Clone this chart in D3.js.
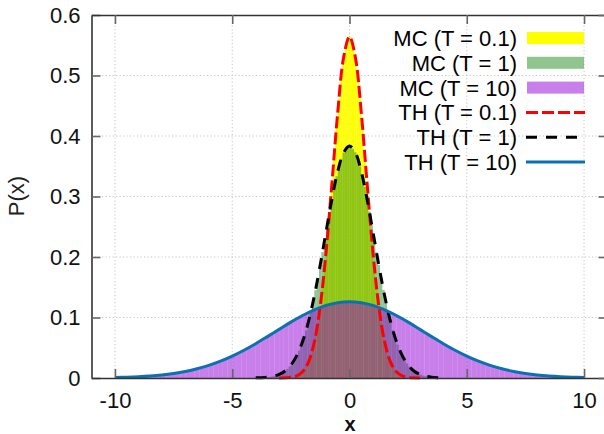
<!DOCTYPE html>
<html><head><meta charset="utf-8">
<script src="https://cdn.jsdelivr.net/npm/d3@7"></script>
<style>
html,body{margin:0;padding:0;background:#fff;}
svg{display:block;font-family:"Liberation Sans",Arial,Helvetica,sans-serif;}
</style></head><body>
<svg id="chart" width="604" height="434"></svg>
<script>
// ---------- data ----------
const xTicks = [-10, -5, 0, 5, 10];
const xTickLabels = ["-10", "-5", "0", "5", "10"];
const yTicks = [0, 0.1, 0.2, 0.3, 0.4, 0.5, 0.6];
const yTickLabels = ["0", "0.1", "0.2", "0.3", "0.4", "0.5", "0.6"];

// MC histograms: first bin left edge, bin width, bin heights
const mcT01Start = -2.4, mcT01Width = 0.1;
const mcT01 = [0.0023,0.0036,0.0055,0.0084,0.0126,0.0184,0.0264,0.0371,0.0511,0.0689,0.0912,0.1183,0.1503,0.1873,0.2288,0.2739,0.3215,0.3698,0.4169,0.4608,0.4992,0.5300,0.5516,0.5628,
  0.5634,0.5509,0.5307,0.4985,0.4615,0.4161,0.3705,0.3208,0.2745,0.2281,0.1879,0.1498,0.1187,0.0908,0.0693,0.0508,0.0373,0.0262,0.0186,0.0124,0.0085,0.0054,0.0037,0.0022];
const mcT1Start = -3.6, mcT1Width = 0.1;
const mcT1 = [0.0011,0.0016,0.0021,0.0029,0.0039,0.0052,0.0069,0.0090,0.0116,0.0149,0.0190,0.0239,0.0299,0.0370,0.0453,0.0550,0.0662,0.0789,0.0931,0.1090,0.1264,0.1452,0.1652,0.1863,0.2081,0.2304,0.2527,0.2746,0.2957,0.3155,0.3335,0.3492,0.3624,0.3726,0.3795,0.3831,
  0.3838,0.3789,0.3731,0.3619,0.3497,0.3329,0.3160,0.2951,0.2750,0.2521,0.2309,0.2076,0.1868,0.1647,0.1456,0.1260,0.1093,0.0928,0.0792,0.0659,0.0552,0.0451,0.0372,0.0297,0.0241,0.0188,0.0150,0.0115,0.0091,0.0068,0.0053,0.0038,0.0030,0.0020,0.0016,0.0011];
const mcT10Start = -10, mcT10Width = 0.2;
const mcT10 = [0.0009,0.0011,0.0014,0.0017,0.0020,0.0024,0.0029,0.0034,0.0040,0.0048,0.0056,0.0065,0.0076,0.0088,0.0102,0.0117,0.0134,0.0153,0.0174,0.0197,0.0222,0.0249,0.0278,0.0310,0.0344,0.0380,0.0418,0.0459,0.0501,0.0545,0.0590,0.0636,0.0684,0.0732,0.0780,0.0828,0.0876,0.0923,0.0968,0.1012,0.1053,0.1091,0.1127,0.1159,0.1187,0.1211,0.1231,0.1245,0.1255,0.1260,
  0.1263,0.1252,0.1248,0.1228,0.1214,0.1184,0.1162,0.1124,0.1094,0.1050,0.1015,0.0965,0.0926,0.0873,0.0831,0.0777,0.0735,0.0681,0.0639,0.0587,0.0548,0.0498,0.0461,0.0416,0.0382,0.0342,0.0312,0.0276,0.0251,0.0220,0.0199,0.0172,0.0155,0.0132,0.0118,0.0101,0.0089,0.0075,0.0066,0.0055,0.0049,0.0039,0.0035,0.0028,0.0025,0.0019,0.0017,0.0013,0.0012,0.0008];

// Theoretical curves
const thT01X = [-3,-2.75,-2.5,-2.25,-2,-1.75,-1.5,-1.25,-1,-0.75,-0.5,-0.25,0,0.25,0.5,0.75,1,1.25,1.5,1.75,2,2.25,2.5,2.75,3];
const thT01Y = [0.00007,0.00029,0.00109,0.00357,0.01033,0.0264,0.0595,0.1183,0.2076,0.3215,0.4394,0.5300,0.5642,0.5300,0.4394,0.3215,0.2076,0.1183,0.0595,0.0264,0.01033,0.00357,0.00109,0.00029,0.00007];
const thT1X = [-4,-3.75,-3.5,-3.25,-3,-2.75,-2.5,-2.25,-2,-1.75,-1.5,-1.25,-1,-0.75,-0.5,-0.25,0,0.25,0.5,0.75,1,1.25,1.5,1.75,2,2.25,2.5,2.75,3,3.25,3.5,3.75,4];
const thT1Y = [0.00024,0.00058,0.00133,0.00291,0.00599,0.01164,0.02135,0.0370,0.0604,0.0931,0.1356,0.1863,0.2416,0.2957,0.3417,0.3726,0.3835,0.3726,0.3417,0.2957,0.2416,0.1863,0.1356,0.0931,0.0604,0.0370,0.02135,0.01164,0.00599,0.00291,0.00133,0.00058,0.00024];
const thT10X = [-10,-9.5,-9,-8.5,-8,-7.5,-7,-6.5,-6,-5.5,-5,-4.5,-4,-3.5,-3,-2.5,-2,-1.5,-1,-0.5,0,0.5,1,1.5,2,2.5,3,3.5,4,4.5,5,5.5,6,6.5,7,7.5,8,8.5,9,9.5,10];
const thT10Y = [0.00085,0.00139,0.00220,0.00341,0.00515,0.00759,0.0109,0.0153,0.0209,0.0278,0.0362,0.0459,0.0567,0.0684,0.0804,0.0923,0.1033,0.1127,0.1200,0.1245,0.1261,0.1245,0.1200,0.1127,0.1033,0.0923,0.0804,0.0684,0.0567,0.0459,0.0362,0.0278,0.0209,0.0153,0.0109,0.00759,0.00515,0.00341,0.00220,0.00139,0.00085];

const legendLabels = ["MC (T = 0.1)", "MC (T = 1)", "MC (T = 10)", "TH (T = 0.1)", "TH (T = 1)", "TH (T = 10)"];

// ---------- drawing ----------
const svg = d3.select("#chart");
const L = 91.5, R = 607.5, T = 15, B = 378;
const x = d3.scaleLinear().domain([-11, 11]).range([L, R]);
const y = d3.scaleLinear().domain([0, 0.6]).range([B, T]);

// grid
const grid = svg.append("g").attr("stroke", "#c4c4c4").attr("stroke-width", 1).attr("stroke-dasharray", "1.2,2.3");
grid.selectAll("line.h").data(yTicks.slice(1, -1)).join("line")
  .attr("x1", L).attr("x2", R).attr("y1", d => y(d)).attr("y2", d => y(d));
grid.selectAll("line.v").data(xTicks).join("line")
  .attr("x1", d => x(d)).attr("x2", d => x(d)).attr("y1", T).attr("y2", B);

function hist(values, start, width, fill, opacity) {
  svg.append("g").selectAll("rect").data(values).join("rect")
    .attr("x", (d, i) => x(start + i * width))
    .attr("width", (d, i) => x(start + (i + 1) * width) - x(start + i * width))
    .attr("y", d => y(d))
    .attr("height", d => B - y(d))
    .attr("fill", fill).attr("fill-opacity", opacity);
}
hist(mcT01, mcT01Start, mcT01Width, "#ffff00", 1);
hist(mcT1, mcT1Start, mcT1Width, "#228b22", 0.5);
hist(mcT10, mcT10Start, mcT10Width, "#9400d3", 0.5);

const line = d3.line().x(d => x(d[0])).y(d => y(d[1])).curve(d3.curveCatmullRom.alpha(0.5));
function curve(xs, ys, color, dash) {
  svg.append("path").datum(xs.map((v, i) => [v, ys[i]]))
    .attr("d", line).attr("fill", "none").attr("stroke", color)
    .attr("stroke-width", 3).attr("stroke-dasharray", dash);
}
curve(thT01X, thT01Y, "#ff0000", "12,4");
curve(thT1X, thT1Y, "#000000", "11,9");
curve(thT10X, thT10Y, "#0a72b0", null);

// axes (ticks inward)
const fontSize = "22px";
const ax = svg.append("g").attr("transform", `translate(${L},0)`)
  .call(d3.axisLeft(y).tickValues(yTicks).tickFormat((d, i) => yTickLabels[i]).tickSize(-9).tickSizeOuter(0).tickPadding(11));
const bx = svg.append("g").attr("transform", `translate(0,${B})`)
  .call(d3.axisBottom(x).tickValues(xTicks).tickFormat((d, i) => xTickLabels[i]).tickSize(-9).tickSizeOuter(0).tickPadding(14));
const tx = svg.append("g").attr("transform", `translate(0,${T})`)
  .call(d3.axisTop(x).tickValues(xTicks).tickFormat("").tickSize(-9).tickSizeOuter(0));
const rx = svg.append("g").attr("transform", `translate(${R},0)`)
  .call(d3.axisRight(y).tickValues(yTicks).tickFormat("").tickSize(-9).tickSizeOuter(0));
[ax, bx, tx, rx].forEach(g => {
  g.select(".domain").attr("stroke", "#333").attr("stroke-width", 1.6);
  g.selectAll(".tick line").attr("stroke", "#666").attr("stroke-width", 1.6);
  g.selectAll(".tick text").attr("fill", "#111").style("font-size", fontSize).style("font-family", "'Liberation Sans',Arial,sans-serif");
});

// axis titles
svg.append("text").attr("x", 350).attr("y", 430.5).attr("text-anchor", "middle")
  .style("font-size", "20px").style("font-weight", "bold").attr("fill", "#111").text("x");
svg.append("text").attr("transform", "translate(24,196) rotate(-90)").attr("text-anchor", "middle")
  .style("font-size", "22px").attr("fill", "#222").text("P(x)");

// legend
const rowsY = [38, 62.8, 87.6, 112.4, 137.2, 162];
const lg = svg.append("g");
lg.selectAll("text").data(legendLabels).join("text")
  .attr("x", 517).attr("y", (d, i) => rowsY[i]).attr("dy", "0.36em").attr("text-anchor", "end")
  .style("font-size", "22px").attr("fill", "#000").text(d => d);
const sw = [["#ffff00", 1], ["#228b22", 0.5], ["#9400d3", 0.5]];
lg.selectAll("rect").data(sw).join("rect")
  .attr("x", 527).attr("width", 57).attr("y", (d, i) => rowsY[i] - 6).attr("height", 12)
  .attr("fill", d => d[0]).attr("fill-opacity", d => d[1]);
const ls = [["#ff0000", "12,4"], ["#000000", "11,9"], ["#0a72b0", null]];
lg.selectAll("line").data(ls).join("line")
  .attr("x1", 526).attr("x2", 585).attr("y1", (d, i) => rowsY[i + 3]).attr("y2", (d, i) => rowsY[i + 3])
  .attr("stroke", d => d[0]).attr("stroke-width", 3).attr("stroke-dasharray", d => d[1]);
</script>
</body></html>
